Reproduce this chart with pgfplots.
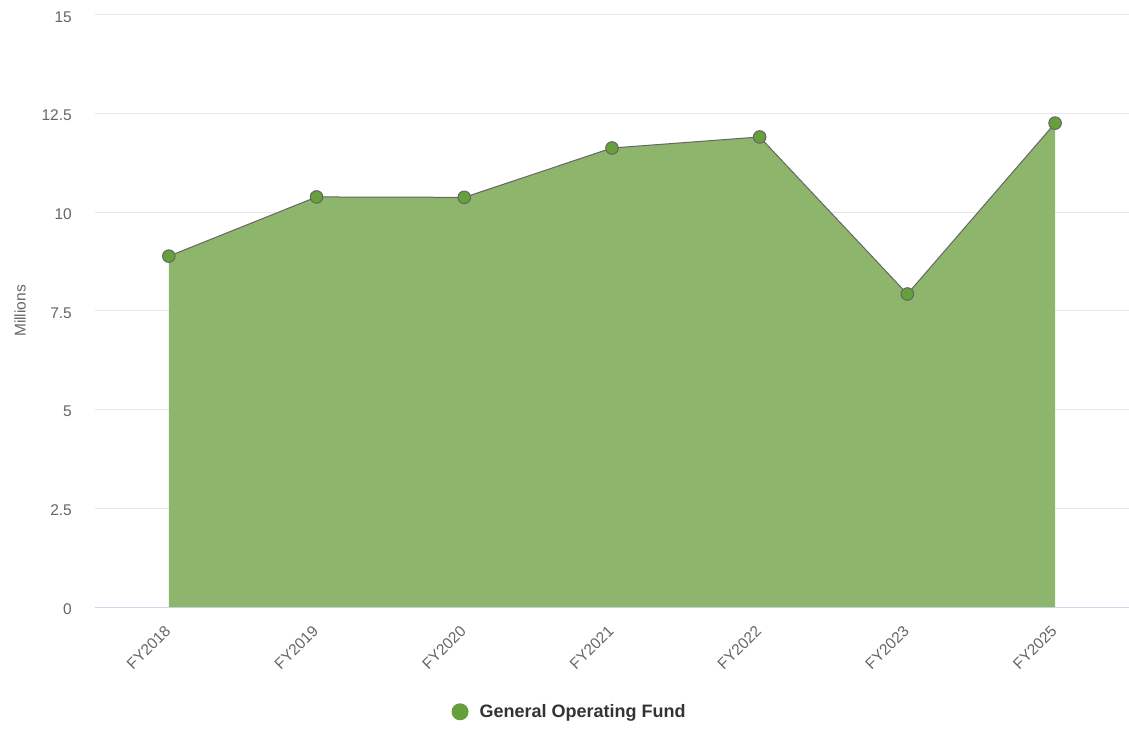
\documentclass[border=0pt]{standalone}
\usepackage{pgfplots}
\pgfplotsset{compat=1.18}
\usepackage{fontspec}
\setmainfont{Liberation Sans}
\definecolor{areafill}{HTML}{8DB56B}
\definecolor{markfill}{HTML}{65A03A}
\definecolor{linegray}{HTML}{666666}
\definecolor{gridgray}{HTML}{E6E6E6}
\definecolor{axisblue}{HTML}{CCD6EB}
\definecolor{labelgray}{HTML}{666666}
\definecolor{legtext}{HTML}{333333}
\begin{document}
\begin{tikzpicture}
\begin{axis}[
  scale only axis,
  width=1034pt, height=592pt,
  xmin=-0.5, xmax=6.5,
  ymin=0, ymax=15,
  xtick={0,1,2,3,4,5,6},
  xticklabels={FY2018,FY2019,FY2020,FY2021,FY2022,FY2023,FY2025},
  ytick={0,2.5,5,7.5,10,12.5,15},
  yticklabels={0,2.5,5,7.5,10,12.5,15},
  /pgf/number format/assume math mode=true,
  axis x line*=bottom,
  axis y line*=left,
  x axis line style={axisblue, line width=1pt, -},
  y axis line style={draw=none},
  ymajorgrids,
  grid style={gridgray, line width=1pt},
  major tick length=0pt,
  tick style={draw=none},
  ticklabel style={font=\fontsize{15.5}{18}\selectfont, text=labelgray},
  yticklabel style={anchor=east, inner sep=0pt, xshift=-23pt, yshift=-2pt},
  xticklabel style={xshift=-1pt, yshift=-21pt, rotate=45, anchor=east, inner sep=0pt},
  ylabel={Millions},
  ylabel style={at={(axis description cs:-0.0725,0.5)}, anchor=center, font=\fontsize{15.5}{18}\selectfont, text=labelgray},
  legend style={at={(axis description cs:0.459,-0.177)}, anchor=center, draw=none, fill=none,
    font=\bfseries\fontsize{18}{21}\selectfont, text=legtext},
  legend cell align=left,
  clip=false,
]
\addplot[fill=areafill, draw=none, forget plot] coordinates {
  (0,8.89) (1,10.39) (2,10.38) (3,11.63) (4,11.91) (5,7.93) (6,12.26)
} \closedcycle;
\addplot[linegray, line width=1pt, mark=*, mark size=6.3pt,
  mark options={fill=markfill, draw=linegray, line width=1pt},
  legend image code/.code={\fill[markfill, draw=none] (8.5pt,0pt) circle (8.5pt); \path[draw=none, fill=none] (0pt,0pt) rectangle (26pt,0pt);}]
  coordinates {
  (0,8.89) (1,10.39) (2,10.38) (3,11.63) (4,11.91) (5,7.93) (6,12.26)
};
\addlegendentry{General Operating Fund}
\end{axis}
\pgfresetboundingbox
\path (current axis.south west) ++(-95pt,-121pt) rectangle ++(1129pt,728pt);
\end{tikzpicture}
\end{document}
